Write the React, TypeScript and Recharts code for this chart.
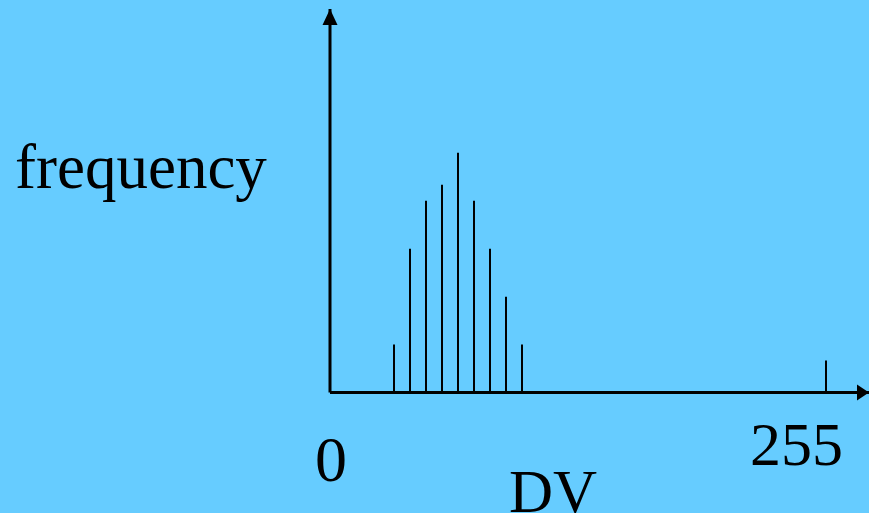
import React from 'react';
import { ComposedChart, Bar, XAxis, YAxis, ReferenceLine, ReferenceDot } from 'recharts';

// DV bins and their counts
const dvValues = [32, 40, 48, 56, 64, 72, 80, 88, 96, 248];
const frequencies = [3, 9, 12, 13, 15, 12, 9, 6, 3, 2];

const X_MAX = 269.5;
const Y_MAX = 24;

const data = dvValues.map((dv, i) => ({ dv, freq: frequencies[i] }));

const SERIF = '"Liberation Serif", "Times New Roman", serif';

const RightArrow = (props: any) => {
  const { cx, cy } = props;
  return <polygon points={`${cx},${cy} ${cx - 12},${cy - 8} ${cx - 12},${cy + 8}`} fill="#000" />;
};

const UpArrow = (props: any) => {
  const { cx, cy } = props;
  return <polygon points={`${cx},${cy} ${cx - 7.5},${cy + 16} ${cx + 7.5},${cy + 16}`} fill="#000" />;
};

export default function App() {
  return (
    <div style={{ position: 'absolute', left: 0, top: 0, width: 869, height: 513, background: '#66CCFF', overflow: 'hidden' }}>
      <ComposedChart width={869} height={513} data={data} margin={{ top: 9, right: 0, left: 330, bottom: 120.5 }}>
        <XAxis type="number" dataKey="dv" domain={[0, X_MAX]} hide />
        <YAxis type="number" domain={[0, Y_MAX]} hide />
        <Bar dataKey="freq" fill="#000" barSize={2} isAnimationActive={false} />
        <ReferenceLine segment={[{ x: 0, y: 0 }, { x: X_MAX, y: 0 }]} stroke="#000" strokeWidth={3} ifOverflow="visible" />
        <ReferenceLine segment={[{ x: 0, y: 0 }, { x: 0, y: Y_MAX }]} stroke="#000" strokeWidth={3} ifOverflow="visible" />
        <ReferenceDot x={X_MAX} y={0} shape={RightArrow} ifOverflow="visible" />
        <ReferenceDot x={0} y={Y_MAX} shape={UpArrow} ifOverflow="visible" />
      </ComposedChart>
      <svg width={869} height={513} style={{ position: 'absolute', left: 0, top: 0, pointerEvents: 'none' }}>
        <g fontFamily={SERIF} fill="#000">
          <text x={15} y={188} fontSize={63}>frequency</text>
          <text x={315} y={481} fontSize={64}>0</text>
          <text x={750} y={465} fontSize={62}>255</text>
          <text x={509} y={512} fontSize={61}>DV</text>
        </g>
      </svg>
    </div>
  );
}
